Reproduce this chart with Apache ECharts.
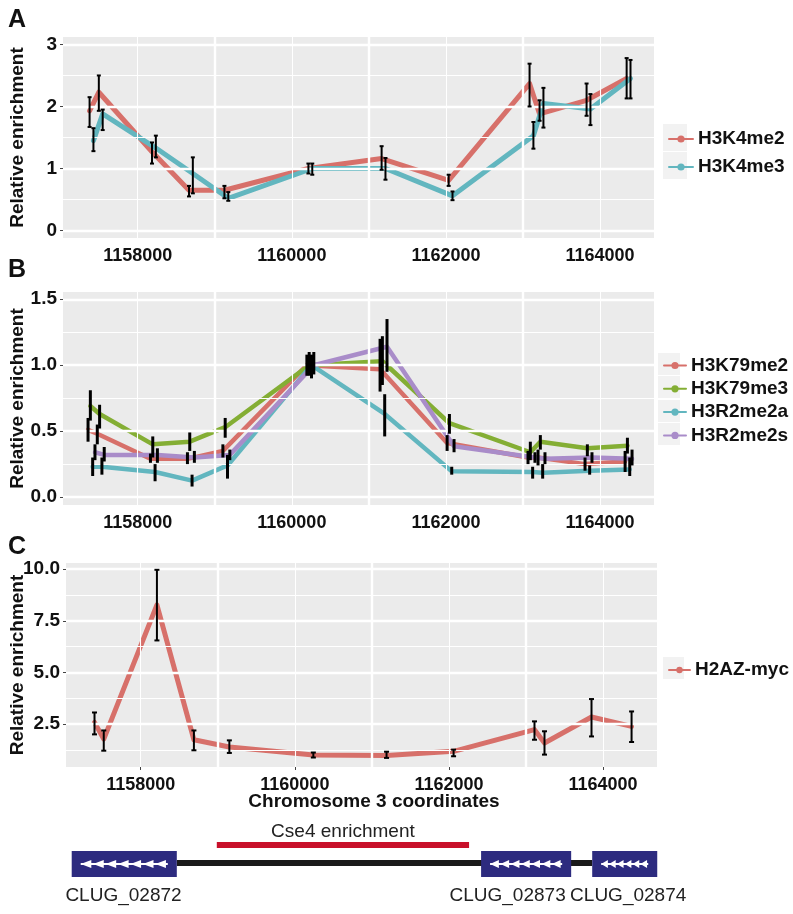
<!DOCTYPE html>
<html><head><meta charset="utf-8">
<script src="https://cdn.jsdelivr.net/npm/echarts@6/dist/echarts.min.js"></script>
<style>html,body{margin:0;padding:0;background:#fff}#c{width:793px;height:914px}</style>
</head><body><div id="c"></div>
<script>
// ---------- data ----------
const positions = [1157400, 1157520, 1158210, 1158690, 1159150, 1160240, 1161190, 1162060, 1163110, 1163240, 1163850, 1164370];
const xTickLabels = [1158000, 1160000, 1162000, 1164000];
const xMidLines = [1159000, 1161000, 1163000];

// Panel A
const H3K4me2    = [1.93, 2.23, 1.27, 0.65, 0.65, 1.00, 1.16, 0.81, 2.37, 1.88, 2.10, 2.45];
const H3K4me2_lo = [1.67, 1.93, 1.08, 0.55, 0.52, 0.92, 0.98, 0.72, 2.00, 1.77, 1.85, 2.13];
const H3K4me2_hi = [2.15, 2.50, 1.42, 0.72, 0.72, 1.08, 1.36, 0.90, 2.69, 2.10, 2.37, 2.78];
const H3K4me3    = [1.45, 1.88, 1.33, 0.92, 0.52, 1.00, 1.00, 0.56, 1.53, 2.05, 1.96, 2.45];
const H3K4me3_lo = [1.28, 1.62, 1.18, 0.60, 0.48, 0.90, 0.82, 0.49, 1.32, 1.66, 1.70, 2.13];
const H3K4me3_hi = [1.65, 1.95, 1.53, 1.18, 0.62, 1.08, 1.17, 0.63, 1.75, 2.30, 2.20, 2.75];
const yTicksA = [0, 1, 2, 3];
const yHalfA = [0.5, 1.5, 2.5];

// Panel B
const H3K79me2    = [0.51, 0.48, 0.29, 0.29, 0.35, 1.00, 0.97, 0.41, 0.30, 0.30, 0.25, 0.27];
const H3K79me2_lo = [0.42, 0.40, 0.26, 0.25, 0.30, 0.92, 0.80, 0.35, 0.25, 0.24, 0.20, 0.19];
const H3K79me2_hi = [0.60, 0.55, 0.33, 0.34, 0.40, 1.08, 1.20, 0.47, 0.35, 0.36, 0.30, 0.35];
const H3K79me3    = [0.69, 0.63, 0.40, 0.42, 0.53, 1.00, 1.03, 0.56, 0.34, 0.42, 0.37, 0.39];
const H3K79me3_lo = [0.58, 0.52, 0.30, 0.35, 0.45, 0.92, 0.85, 0.48, 0.28, 0.36, 0.31, 0.33];
const H3K79me3_hi = [0.81, 0.70, 0.46, 0.49, 0.60, 1.10, 1.22, 0.63, 0.42, 0.47, 0.40, 0.45];
const H3R2me2a    = [0.23, 0.23, 0.19, 0.125, 0.24, 1.00, 0.63, 0.195, 0.19, 0.185, 0.20, 0.21];
const H3R2me2a_lo = [0.16, 0.17, 0.12, 0.08, 0.14, 0.90, 0.46, 0.17, 0.14, 0.14, 0.17, 0.16];
const H3R2me2a_hi = [0.30, 0.30, 0.25, 0.17, 0.32, 1.08, 0.78, 0.23, 0.23, 0.25, 0.24, 0.30];
const H3R2me2s    = [0.34, 0.32, 0.32, 0.30, 0.32, 1.00, 1.14, 0.385, 0.30, 0.29, 0.30, 0.29];
const H3R2me2s_lo = [0.28, 0.27, 0.26, 0.26, 0.28, 0.93, 0.95, 0.34, 0.26, 0.25, 0.26, 0.24];
const H3R2me2s_hi = [0.40, 0.38, 0.37, 0.35, 0.36, 1.10, 1.35, 0.44, 0.34, 0.34, 0.34, 0.36];
const yTicksB = [0, 0.5, 1.0, 1.5];
const yQuarterB = [0.25, 0.75, 1.25];

// Panel C
const H2AZmyc    = [2.58, 1.77, 8.27, 1.74, 1.39, 1.00, 0.98, 1.18, 2.23, 1.58, 2.84, 2.39];
const H2AZmyc_lo = [2.00, 1.21, 6.55, 1.23, 1.10, 0.88, 0.86, 0.94, 1.74, 1.02, 1.90, 1.63];
const H2AZmyc_hi = [3.06, 2.19, 9.97, 2.19, 1.71, 1.12, 1.16, 1.26, 2.63, 2.15, 3.71, 3.11];
const yTicksC = [2.5, 5.0, 7.5, 10.0];
const yMidC = [1.25, 3.75, 6.25, 8.75];

// Gene track
const geneNames  = ['CLUG_02872', 'CLUG_02873', 'CLUG_02874'];
const geneStart  = [1157143, 1162456, 1163898];
const geneEnd    = [1158507, 1163625, 1164742];
const geneArrows = [7, 7, 6];
const geneLabelX = [1157815, 1162800, 1164365];
const backbone   = [1158507, 1163898];
const cse4Region = [1159026, 1162300];
const cse4Label  = 'Cse4 enrichment';

// ---------- styling ----------
const RED = '#D7706A', BLUE = '#62B6BF', GREEN = '#84AE34', PURPLE = '#A98CC9';
const XMIN = 1157030, XMAX = 1164700;
const FONT = 'Liberation Sans, Arial, sans-serif';

function gridSeries(idx, yThick, yThin) {
  const d = [];
  xMidLines.forEach(v => d.push({xAxis: v, lineStyle: {width: 2.4}}));
  xTickLabels.forEach(v => d.push({xAxis: v, lineStyle: {width: 1.1}}));
  yThick.forEach(v => d.push({yAxis: v, lineStyle: {width: 2.4}}));
  yThin.forEach(v => d.push({yAxis: v, lineStyle: {width: 1.1}}));
  return {type: 'line', xAxisIndex: idx, yAxisIndex: idx, data: [], z: 1, silent: true,
    markLine: {silent: true, symbol: ['none', 'none'], label: {show: false}, animation: false,
      lineStyle: {color: '#fff', type: 'solid'}, emphasis: {disabled: true}, data: d}};
}

function lineSeries(idx, name, vals, color, dx, width) {
  return {type: 'line', name, xAxisIndex: idx, yAxisIndex: idx, z: 3,
    data: positions.map((p, i) => [p + dx, vals[i]]),
    showSymbol: false, symbol: 'circle', symbolSize: 8,
    lineStyle: {width, color, join: 'round', cap: 'round'}, itemStyle: {color},
    emphasis: {disabled: true}, animation: false};
}

function errSeries(idx, lo, hi, dx, capW, lw) {
  return {type: 'custom', xAxisIndex: idx, yAxisIndex: idx, z: 5, silent: true,
    data: positions.map((p, i) => [p + dx, lo[i], hi[i]]),
    encode: {x: 0, y: [1, 2]},
    renderItem(params, api) {
      const x = api.value(0);
      const a = api.coord([x, api.value(1)]);
      const b = api.coord([x, api.value(2)]);
      const st = {stroke: '#000', lineWidth: lw};
      const ch = [{type: 'line', shape: {x1: a[0], y1: a[1], x2: b[0], y2: b[1]}, style: st}];
      if (capW > 0) {
        ch.push({type: 'line', shape: {x1: a[0] - capW / 2, y1: a[1], x2: a[0] + capW / 2, y2: a[1]}, style: st});
        ch.push({type: 'line', shape: {x1: b[0] - capW / 2, y1: b[1], x2: b[0] + capW / 2, y2: b[1]}, style: st});
      }
      return {type: 'group', children: ch};
    }, animation: false};
}

const labelStyle = {fontSize: 19, fontWeight: 'bold', color: '#111', fontFamily: FONT};

function xAxisCfg(idx) {
  return {type: 'value', gridIndex: idx, min: XMIN, max: XMAX,
    axisLine: {show: false}, splitLine: {show: false},
    axisTick: {show: true, length: 3, lineStyle: {color: '#444', width: 1}, customValues: xTickLabels},
    axisLabel: {show: true, margin: 9, customValues: xTickLabels, fontSize: 18, fontWeight: 'bold', color: '#111',
      fontFamily: FONT, formatter: v => String(v)}};
}
function yAxisCfg(idx, min, max, ticks, dec, gap) {
  return {type: 'value', gridIndex: idx, min, max,
    name: 'Relative enrichment', nameLocation: 'middle', nameRotate: 90, nameGap: gap,
    nameMoveOverlap: false, nameTruncate: {maxWidth: 400},
    nameTextStyle: labelStyle,
    axisLine: {show: false}, splitLine: {show: false},
    axisTick: {show: true, length: 3, lineStyle: {color: '#444', width: 1}, customValues: ticks},
    axisLabel: {show: true, margin: 6, customValues: ticks, fontSize: 19, fontWeight: 'bold', color: '#111',
      fontFamily: FONT, formatter: v => v.toFixed(dec)}};
}

const legendText = {fontSize: 19, fontWeight: 'bold', color: '#111', fontFamily: FONT};

// gene track custom series
const geneSeries = {type: 'custom', xAxisIndex: 3, yAxisIndex: 3, z: 5, silent: true, clip: false,
  data: geneNames.map((n, i) => [geneStart[i], geneEnd[i], geneArrows[i], geneLabelX[i]]),
  renderItem(params, api) {
    const i = params.dataIndex;
    const s = api.coord([api.value(0), 51]);
    const e = api.coord([api.value(1), 77]);
    const n = api.value(2);
    const lp = api.coord([api.value(3), 96]);
    const ch = [{type: 'rect', shape: {x: s[0], y: s[1], width: e[0] - s[0], height: e[1] - s[1]}, style: {fill: '#2D2B7F'}}];
    const pad = 9;
    const x0 = s[0] + pad, x1 = e[0] - pad;
    const cy = (s[1] + e[1]) / 2;
    const w = (x1 - x0) / n;
    ch.push({type: 'line', shape: {x1: x0, y1: cy, x2: x1, y2: cy}, style: {stroke: '#fff', lineWidth: 2}});
    for (let k = 0; k < n; k++) {
      const tx = x0 + k * w;
      ch.push({type: 'polygon', shape: {points: [[tx, cy], [tx + w * 0.85, cy - 4], [tx + w * 0.85, cy + 4]]}, style: {fill: '#fff'}});
    }
    ch.push({type: 'text', style: {text: geneNames[i], x: lp[0], y: lp[1], align: 'center', verticalAlign: 'middle',
      fontSize: 19, fontFamily: FONT, fill: '#222'}});
    return {type: 'group', children: ch};
  }, animation: false};

const trackSeries = {type: 'custom', xAxisIndex: 3, yAxisIndex: 3, z: 4, silent: true, clip: false,
  data: [[backbone[0], backbone[1], 0], [cse4Region[0], cse4Region[1], 1]],
  renderItem(params, api) {
    const isCse = api.value(2) === 1;
    const yc = isCse ? 45 : 63;
    const a = api.coord([api.value(0), yc - 3]);
    const b = api.coord([api.value(1), yc + 3]);
    const ch = [{type: 'rect', shape: {x: a[0], y: a[1], width: b[0] - a[0], height: b[1] - a[1]},
      style: {fill: isCse ? '#C8102A' : '#1a1a1a'}}];
    if (isCse) {
      const m = api.coord([(api.value(0) + api.value(1)) / 2, 32]);
      ch.push({type: 'text', style: {text: cse4Label, x: m[0], y: m[1], align: 'center', verticalAlign: 'middle',
        fontSize: 19, fontFamily: FONT, fill: '#222'}});
    }
    return {type: 'group', children: ch};
  }, animation: false};

const keyBg = (x, y, w, h) => ({type: 'rect', z: 0, shape: {x, y, width: w, height: h}, style: {fill: '#F2F2F2'}});
const txt = (t, x, y, size, align) => ({type: 'text', z: 10, x, y,
  style: {text: t, fontSize: size, fontWeight: 'bold', fill: '#111', textAlign: align || 'left', fontFamily: FONT}});

const gridBase = {show: true, backgroundColor: '#EBEBEB', borderWidth: 0, containLabel: false, outerBoundsMode: 'none'};
const option = {
  animation: false,
  backgroundColor: '#fff',
  grid: [
    Object.assign({left: 63, top: 37, width: 591, height: 201}, gridBase),
    Object.assign({left: 63, top: 292, width: 591, height: 213}, gridBase),
    Object.assign({left: 66, top: 563, width: 591, height: 204}, gridBase),
    {left: 63, top: 800, width: 591, height: 100, show: false, outerBoundsMode: 'none'}
  ],
  xAxis: [xAxisCfg(0), xAxisCfg(1), xAxisCfg(2),
    {type: 'value', gridIndex: 3, min: XMIN, max: XMAX, show: false}],
  yAxis: [yAxisCfg(0, -0.12, 3.12, yTicksA, 0, 36), yAxisCfg(1, -0.06, 1.555, yTicksB, 1, 36),
    yAxisCfg(2, 0.42, 10.3, yTicksC, 1, 39),
    {type: 'value', gridIndex: 3, min: 0, max: 100, inverse: true, show: false}],
  legend: [
    {data: ['H3K4me2', 'H3K4me3'], orient: 'vertical', left: 663, top: 123, itemWidth: 24, itemHeight: 9, itemGap: 6,
      selectedMode: false, textStyle: Object.assign({lineHeight: 22}, legendText), z: 10},
    {data: ['H3K79me2', 'H3K79me3', 'H3R2me2a', 'H3R2me2s'], orient: 'vertical', left: 658, top: 350, itemWidth: 22, itemHeight: 9, itemGap: 2.3,
      selectedMode: false, textStyle: Object.assign({lineHeight: 21}, legendText), z: 10},
    {data: ['H2AZ-myc'], orient: 'vertical', left: 663, top: 654, itemWidth: 21, itemHeight: 8, itemGap: 2,
      selectedMode: false, textStyle: Object.assign({lineHeight: 22}, legendText), z: 10}
  ],
  graphic: [
    keyBg(663, 124, 24, 27), keyBg(663, 152, 24, 27),
    keyBg(658, 353, 22, 22), keyBg(658, 376, 22, 22), keyBg(658, 400, 22, 22), keyBg(658, 423, 22, 22),
    keyBg(663, 657, 21, 22),
    txt('A', 8, 8, 25), txt('B', 8, 258, 25), txt('C', 8, 535, 25),
    txt('Chromosome 3 coordinates', 374, 792, 19, 'center')
  ],
  series: [
    gridSeries(0, yTicksA, yHalfA),
    gridSeries(1, yTicksB, yQuarterB),
    gridSeries(2, yTicksC, yMidC),
    lineSeries(0, 'H3K4me2', H3K4me2, RED, -25, 5),
    lineSeries(0, 'H3K4me3', H3K4me3, BLUE, 25, 5),
    errSeries(0, H3K4me2_lo, H3K4me2_hi, -25, 4, 2),
    errSeries(0, H3K4me3_lo, H3K4me3_hi, 25, 4, 2),
    lineSeries(1, 'H3K79me2', H3K79me2, RED, -45, 4.5),
    lineSeries(1, 'H3K79me3', H3K79me3, GREEN, -15, 4.5),
    lineSeries(1, 'H3R2me2a', H3R2me2a, BLUE, 15, 4.5),
    lineSeries(1, 'H3R2me2s', H3R2me2s, PURPLE, 45, 4.5),
    errSeries(1, H3K79me2_lo, H3K79me2_hi, -45, 0, 3),
    errSeries(1, H3K79me3_lo, H3K79me3_hi, -15, 0, 3),
    errSeries(1, H3R2me2a_lo, H3R2me2a_hi, 15, 0, 3),
    errSeries(1, H3R2me2s_lo, H3R2me2s_hi, 45, 0, 3),
    lineSeries(2, 'H2AZ-myc', H2AZmyc, RED, 0, 5),
    errSeries(2, H2AZmyc_lo, H2AZmyc_hi, 0, 5, 2),
    trackSeries,
    geneSeries
  ]
};

const chart = echarts.init(document.getElementById('c'), null, {renderer: 'canvas'});
chart.setOption(option);
</script>
</body></html>
